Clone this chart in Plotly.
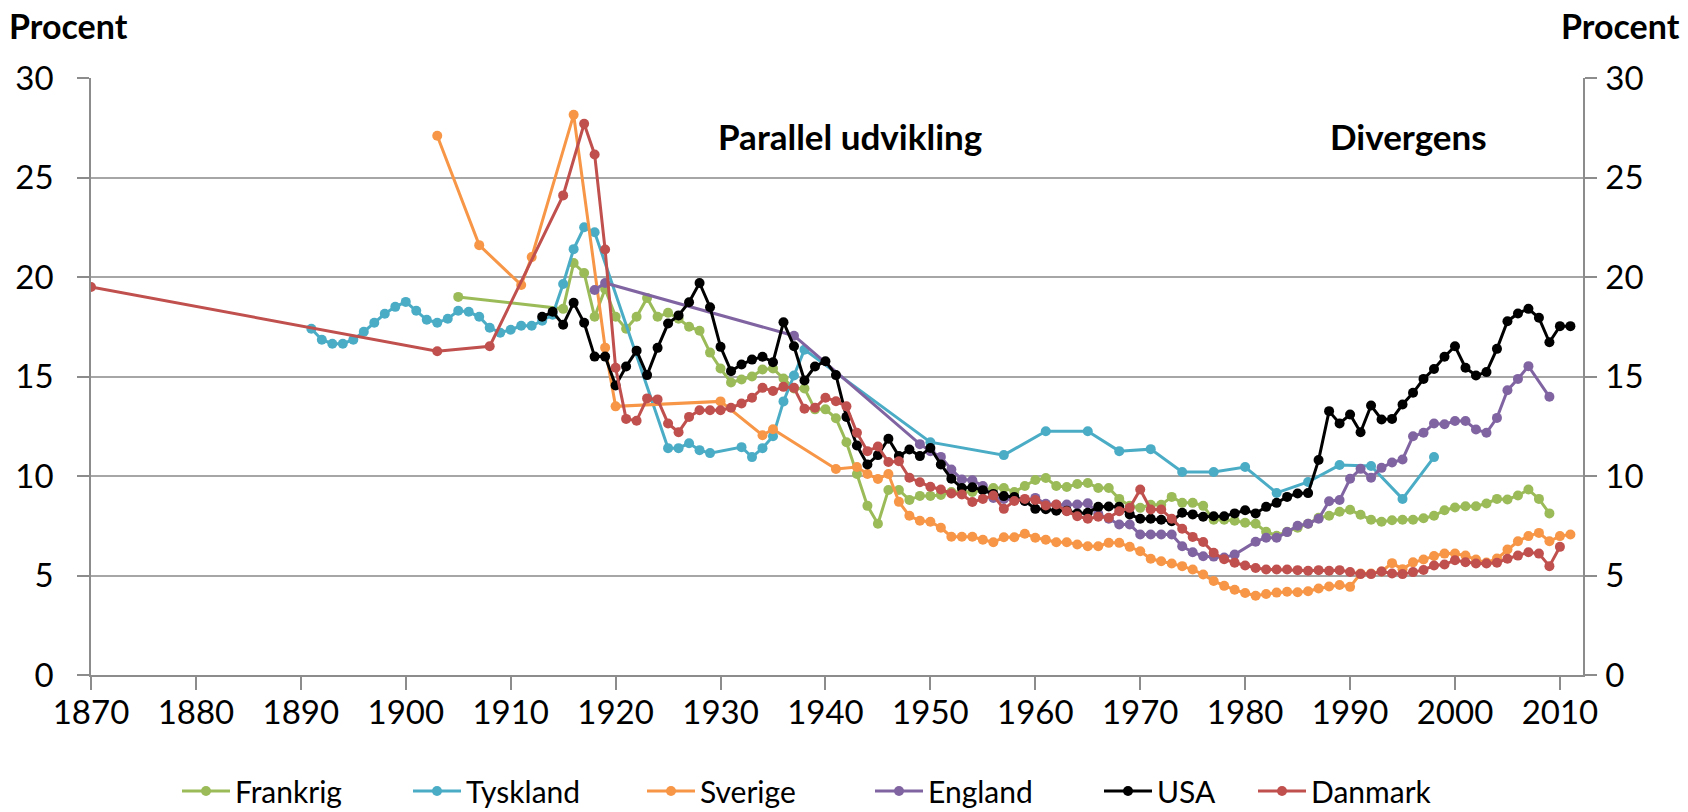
import plotly.graph_objects as go

# ---------------- data ----------------
frankrig_years = [1905, 1915, 1916, 1917, 1918, 1919, 1920, 1921, 1922, 1923, 1924, 1925, 1926, 1927, 1928, 1929,
                  1930, 1931, 1932, 1933, 1934, 1935, 1936, 1937, 1938, 1939, 1940, 1941, 1942, 1943, 1944, 1945,
                  1946, 1947, 1948, 1949, 1950, 1951, 1952, 1953, 1954, 1955, 1956, 1957, 1958, 1959, 1960, 1961,
                  1962, 1963, 1964, 1965, 1966, 1967, 1968, 1969, 1970, 1971, 1972, 1973, 1974, 1975, 1976, 1977,
                  1978, 1979, 1980, 1981, 1982, 1983, 1984, 1985, 1986, 1987, 1988, 1989, 1990, 1991, 1992, 1993,
                  1994, 1995, 1996, 1997, 1998, 1999, 2000, 2001, 2002, 2003, 2004, 2005, 2006, 2007, 2008, 2009]
frankrig = [19.0, 18.4, 20.7, 20.2, 18.0, 19.4, 18.0, 17.4, 18.0, 18.95, 18.0, 18.2, 17.9, 17.5, 17.3, 16.2,
            15.4, 14.7, 14.85, 15.0, 15.35, 15.4, 14.9, 14.4, 14.4, 13.35, 13.35, 12.9, 11.7, 10.1, 8.5, 7.6,
            9.3, 9.3, 8.8, 9.0, 9.0, 9.05, 9.2, 9.2, 9.2, 9.3, 9.4, 9.4, 9.2, 9.5, 9.8, 9.9,
            9.5, 9.45, 9.6, 9.65, 9.4, 9.4, 8.85, 8.5, 8.4, 8.55, 8.55, 8.95, 8.65, 8.65, 8.5, 7.8,
            7.8, 7.75, 7.65, 7.6, 7.2, 7.0, 7.2, 7.4, 7.6, 7.9, 8.0, 8.2, 8.3, 8.05, 7.8, 7.7,
            7.78, 7.8, 7.8, 7.88, 8.0, 8.28, 8.42, 8.48, 8.48, 8.62, 8.85, 8.82, 9.02, 9.32, 8.85, 8.12]

tyskland_years = [1891, 1892, 1893, 1894, 1895, 1896, 1897, 1898, 1899, 1900, 1901, 1902, 1903, 1904, 1905, 1906,
                  1907, 1908, 1909, 1910, 1911, 1912, 1913, 1914, 1915, 1916, 1917, 1918, 1925, 1926, 1927, 1928,
                  1929, 1932, 1933, 1934, 1935, 1936, 1937, 1938, 1950, 1957, 1961, 1965, 1968, 1971, 1974, 1977,
                  1980, 1983, 1986, 1989, 1992, 1995, 1998]
tyskland = [17.4, 16.85, 16.65, 16.65, 16.85, 17.25, 17.7, 18.15, 18.5, 18.75, 18.3, 17.85, 17.7, 17.9, 18.3, 18.25,
            18.0, 17.45, 17.2, 17.35, 17.55, 17.55, 17.8, 18.1, 19.65, 21.4, 22.5, 22.25, 11.4, 11.4, 11.65, 11.3,
            11.15, 11.45, 10.95, 11.4, 12.0, 13.75, 15.05, 16.35, 11.7, 11.05, 12.25, 12.25, 11.25, 11.35, 10.2, 10.2,
            10.45, 9.15, 9.7, 10.55, 10.5, 8.85, 10.95]

sverige_years = [1903, 1907, 1911, 1912, 1916, 1919, 1920, 1930, 1934, 1935, 1941, 1943, 1944, 1945, 1946, 1947,
                 1948, 1949, 1950, 1951, 1952, 1953, 1954, 1955, 1956, 1957, 1958, 1959, 1960, 1961, 1962, 1963,
                 1964, 1965, 1966, 1967, 1968, 1969, 1970, 1971, 1972, 1973, 1974, 1975, 1976, 1977, 1978, 1979,
                 1980, 1981, 1982, 1983, 1984, 1985, 1986, 1987, 1988, 1989, 1990, 1991, 1992, 1993, 1994, 1995,
                 1996, 1997, 1998, 1999, 2000, 2001, 2002, 2003, 2004, 2005, 2006, 2007, 2008, 2009, 2010, 2011]
sverige = [27.1, 21.6, 19.6, 21.0, 28.15, 16.45, 13.5, 13.75, 12.05, 12.35, 10.35, 10.45, 10.1, 9.85, 10.1, 8.7,
           8.0, 7.75, 7.7, 7.4, 6.95, 6.95, 6.95, 6.8, 6.67, 6.92, 6.92, 7.1, 6.9, 6.8, 6.67, 6.67,
           6.56, 6.47, 6.47, 6.64, 6.64, 6.44, 6.22, 5.84, 5.72, 5.6, 5.47, 5.3, 5.05, 4.72, 4.48, 4.28,
           4.12, 3.98, 4.07, 4.14, 4.18, 4.16, 4.21, 4.35, 4.45, 4.52, 4.43, 5.1, 5.1, 5.2, 5.62, 5.32,
           5.66, 5.8, 5.98, 6.1, 6.1, 6.0, 5.8, 5.65, 5.85, 6.31, 6.72, 6.98, 7.14, 6.72, 6.98, 7.06]

england_years = [1918, 1919, 1937, 1949, 1950, 1951, 1952, 1953, 1954, 1955, 1956, 1957, 1958, 1959, 1960, 1961,
                 1962, 1963, 1964, 1965, 1966, 1967, 1968, 1969, 1970, 1971, 1972, 1973, 1974, 1975, 1976, 1977,
                 1978, 1979, 1981, 1982, 1983, 1984, 1985, 1986, 1987, 1988, 1989, 1990, 1991, 1992, 1993, 1994,
                 1995, 1996, 1997, 1998, 1999, 2000, 2001, 2002, 2003, 2004, 2005, 2006, 2007, 2009]
england = [19.35, 19.7, 17.05, 11.6, 11.25, 10.96, 10.33, 9.82, 9.79, 9.5, 8.9, 8.85, 8.8, 8.75, 8.9, 8.6,
           8.55, 8.57, 8.57, 8.63, 8.1, 7.85, 7.56, 7.56, 7.06, 7.06, 7.06, 7.06, 6.47, 6.17, 5.97, 5.95,
           5.9, 6.05, 6.7, 6.9, 6.9, 7.18, 7.5, 7.6, 7.85, 8.73, 8.79, 9.86, 10.36, 9.91, 10.41, 10.68,
           10.83, 12.0, 12.17, 12.64, 12.6, 12.76, 12.76, 12.34, 12.17, 12.92, 14.31, 14.88, 15.52, 13.98]

usa_years = list(range(1913, 2012))
usa = [18.0, 18.25, 17.6, 18.7, 17.7, 16.0, 16.0, 14.55, 15.5, 16.3, 15.07, 16.44, 17.66, 18.07, 18.73, 19.7,
       18.48, 16.49, 15.27, 15.6, 15.85, 15.99, 15.72, 17.73, 16.52, 14.8, 15.5, 15.77, 15.07, 12.97, 11.53, 10.58,
       11.05, 11.87, 11.0, 11.33, 11.0, 11.41, 10.58, 9.86, 9.4, 9.43, 9.29, 9.1, 8.99, 8.95, 8.75, 8.35,
       8.33, 8.25, 8.25, 8.12, 8.15, 8.45, 8.47, 8.45, 8.07, 7.85, 7.85, 7.8, 7.73, 8.15, 8.07, 7.95,
       7.98, 7.98, 8.12, 8.28, 8.12, 8.45, 8.65, 8.95, 9.12, 9.14, 10.8, 13.26, 12.64, 13.09, 12.2, 13.54,
       12.84, 12.87, 13.59, 14.18, 14.88, 15.38, 15.99, 16.52, 15.44, 15.05, 15.22, 16.39, 17.78, 18.17, 18.4, 17.95,
       16.72, 17.53, 17.53]

danmark_years = [1870, 1903, 1908, 1915, 1917, 1918, 1919] + list(range(1920, 2011))
danmark = [19.5, 16.27, 16.52, 24.1, 27.7, 26.16, 21.38,
           15.44, 12.87, 12.78, 13.9, 13.85, 12.64, 12.2, 12.97, 13.3, 13.3, 13.3, 13.43, 13.64, 13.93, 14.43, 14.27,
           14.48, 14.43, 13.38, 13.43, 13.93, 13.76, 13.5, 12.17, 11.25, 11.48, 10.7, 10.74, 9.91, 9.69, 9.46, 9.32,
           9.12, 9.07, 8.69, 8.85, 9.02, 8.35, 8.74, 8.85, 8.79, 8.52, 8.57, 8.23, 7.98, 7.85, 7.95, 7.9,
           8.23, 8.4, 9.32, 8.32, 8.32, 7.85, 7.35, 6.94, 6.68, 6.14, 5.82, 5.64, 5.5, 5.38, 5.3, 5.3,
           5.3, 5.27, 5.24, 5.27, 5.24, 5.27, 5.18, 5.07, 5.07, 5.2, 5.1, 5.07, 5.17, 5.28, 5.5, 5.55,
           5.77, 5.67, 5.6, 5.6, 5.64, 5.84, 6.0, 6.17, 6.1, 5.47, 6.44]

series_names = ["Frankrig", "Tyskland", "Sverige", "England", "USA", "Danmark"]
series_x = [frankrig_years, tyskland_years, sverige_years, england_years, usa_years, danmark_years]
series_y = [frankrig, tyskland, sverige, england, usa, danmark]
series_colors = ["#9BBB59", "#4BACC6", "#F79646", "#8064A2", "#000000", "#C0504D"]

x_ticks = list(range(1870, 2011, 10))
y_ticks = [0, 5, 10, 15, 20, 25, 30]

# ---------------- layout helpers ----------------
W, H = 1688, 812
L, R, T, B = 91, 105, 78, 137
PW, PH = W - L - R, H - T - B


def px_x(p):
    return (p - L) / PW


def px_y(p):
    return (H - B - p) / PH


FONT = "Lato, 'Open Sans', sans-serif"
GRID = "#A6A6A6"
AXIS = "#8C8C8C"

fig = go.Figure()

legend_text_start = [235, 466, 700, 928, 1157, 1311]

for i, (name, xs, ys, col) in enumerate(zip(series_names, series_x, series_y, series_colors)):
    lg = "legend" if i == 0 else f"legend{i + 1}"
    fig.add_trace(go.Scatter(
        x=xs, y=ys, name=name, mode="lines+markers",
        line=dict(color=col, width=3),
        marker=dict(color=col, size=10),
        legend=lg,
        yaxis="y2" if i == len(series_names) - 1 else "y",
    ))

layout_legends = {}
for i, ts in enumerate(legend_text_start):
    lg = "legend" if i == 0 else f"legend{i + 1}"
    layout_legends[lg] = dict(
        xref="container", yref="container",
        x=(ts - 58) / W, xanchor="left",
        y=(H - 791) / H, yanchor="middle",
        orientation="h",
        font=dict(family=FONT, size=30, color="#000000"),
        bgcolor="rgba(0,0,0,0)",
        itemwidth=48,
    )

tick_font = dict(family=FONT, size=33, color="#000000")

fig.update_layout(
    width=W, height=H,
    margin=dict(l=L, r=R, t=T, b=B, autoexpand=False),
    paper_bgcolor="white", plot_bgcolor="white",
    font=dict(family=FONT, size=30, color="#000000"),
    showlegend=True,
    xaxis=dict(
        range=[1870, 2012.2], tickmode="array", tickvals=x_ticks,
        ticks="outside", ticklen=13, tickcolor=AXIS, tickwidth=1.5,
        showline=True, linecolor=AXIS, linewidth=1.5,
        showgrid=False, zeroline=False, automargin=False,
        tickfont=tick_font,
        ticklabelstandoff=-5,
    ),
    yaxis=dict(
        range=[0, 30], tickmode="array", tickvals=y_ticks,
        ticks="outside", ticklen=12, tickcolor=AXIS, tickwidth=1.5,
        showline=True, linecolor=AXIS, linewidth=1.5,
        showgrid=True, gridcolor=GRID, gridwidth=1.5, zeroline=False, automargin=False,
        tickfont=tick_font,
        ticklabelstandoff=17,
    ),
    yaxis2=dict(
        range=[0, 30], tickmode="array", tickvals=y_ticks,
        overlaying="y", side="right", anchor="x",
        ticks="outside", ticklen=12, tickcolor=AXIS, tickwidth=1.5,
        showline=True, linecolor=AXIS, linewidth=1.5,
        showgrid=False, zeroline=False, automargin=False,
        tickfont=tick_font,
        ticklabelstandoff=2,
    ),
    annotations=[
        dict(text="<b>Procent</b>", xref="paper", yref="paper", x=px_x(7), y=px_y(26),
             xanchor="left", yanchor="middle", showarrow=False,
             font=dict(family=FONT, size=34, color="#000000")),
        dict(text="<b>Procent</b>", xref="paper", yref="paper", x=px_x(1621), y=px_y(26),
             xanchor="center", yanchor="middle", showarrow=False,
             font=dict(family=FONT, size=34, color="#000000")),
        dict(text="<b>Parallel udvikling</b>", xref="paper", yref="paper", x=px_x(850), y=px_y(136),
             xanchor="center", yanchor="middle", showarrow=False,
             font=dict(family=FONT, size=35, color="#000000")),
        dict(text="<b>Divergens</b>", xref="paper", yref="paper", x=px_x(1408), y=px_y(136),
             xanchor="center", yanchor="middle", showarrow=False,
             font=dict(family=FONT, size=35, color="#000000")),
    ],
    **layout_legends,
)

fig.write_html("out.html",
               config={"displayModeBar": False},
               post_script="document.body.style.margin='0';document.body.style.overflow='hidden';")
